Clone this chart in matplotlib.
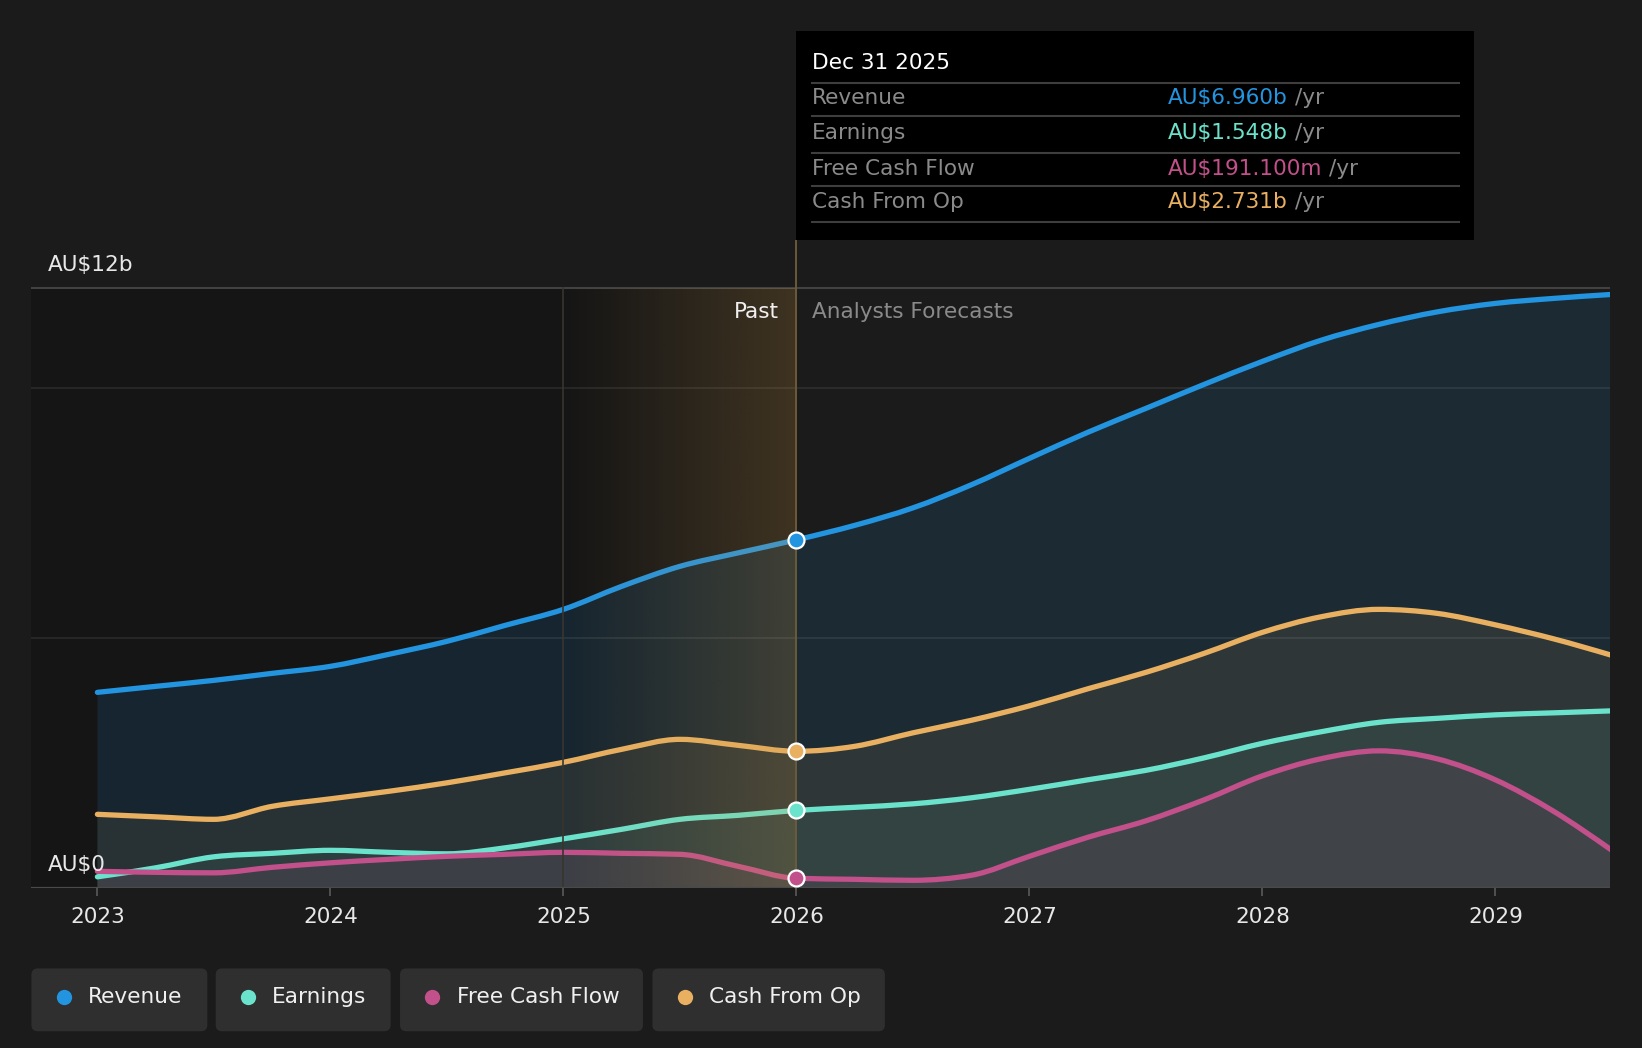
import matplotlib
matplotlib.use("Agg")
import matplotlib.pyplot as plt
import numpy as np
from matplotlib.patches import FancyBboxPatch, Rectangle, PathPatch
from matplotlib.path import Path

# ---------------- data (AU$ billions) ----------------
years = [2023.0, 2023.25, 2023.5, 2023.75, 2024.0, 2024.25, 2024.5, 2024.75,
         2025.0, 2025.25, 2025.5, 2025.75, 2026.0, 2026.25, 2026.5, 2026.75,
         2027.0, 2027.25, 2027.5, 2027.75, 2028.0, 2028.25, 2028.5, 2028.75,
         2029.0, 2029.25, 2029.5]
revenue = [3.91, 4.03, 4.15, 4.29, 4.43, 4.67, 4.93, 5.25,
           5.57, 6.03, 6.43, 6.70, 6.96, 7.25, 7.60, 8.06,
           8.59, 9.11, 9.59, 10.07, 10.53, 10.95, 11.27, 11.52,
           11.69, 11.79, 11.87]
earnings = [0.22, 0.40, 0.62, 0.69, 0.75, 0.71, 0.68, 0.80,
            0.98, 1.17, 1.37, 1.45, 1.548, 1.61, 1.68, 1.80,
            1.97, 2.16, 2.35, 2.60, 2.89, 3.12, 3.31, 3.39,
            3.46, 3.50, 3.54]
fcf = [0.33, 0.31, 0.30, 0.41, 0.50, 0.57, 0.63, 0.67,
       0.71, 0.69, 0.67, 0.43, 0.1911, 0.17, 0.15, 0.25,
       0.63, 1.01, 1.34, 1.76, 2.24, 2.58, 2.74, 2.58,
       2.16, 1.53, 0.75]
cfo = [1.47, 1.42, 1.37, 1.63, 1.78, 1.93, 2.10, 2.30,
       2.51, 2.77, 2.97, 2.85, 2.731, 2.83, 3.10, 3.35,
       3.64, 3.98, 4.31, 4.69, 5.11, 5.42, 5.57, 5.49,
       5.26, 4.98, 4.65]

series_names = ["Revenue", "Earnings", "Free Cash Flow", "Cash From Op"]
tooltip_values = ["AU$6.960b", "AU$1.548b", "AU$191.100m", "AU$2.731b"]
tick_years = [2023, 2024, 2025, 2026, 2027, 2028, 2029]
tooltip_date = "Dec 31 2025"
now_year = 2026.0
past_start = 2025.0

# ---------------- style ----------------
BG = "#1b1b1b"
PAST_BG = "#151515"
C_REV = "#2394df"
C_EARN = "#6be3cc"
C_FCF = "#c2508a"
C_CFO = "#e8b060"
colors = [C_REV, C_EARN, C_FCF, C_CFO]
FS = 15.6
plt.rcParams["font.family"] = ["DejaVu Sans"]

RW, RH = 1568.0, 1001.0  # measurement grid


def fx(v):
    return v / RW


def fy(v):
    return 1 - v / RH


def smooth_path(xs, ys, close_to_zero=False):
    """Monotone cubic (d3 monotoneX style) path through the data points."""
    xs = np.asarray(xs, float)
    ys = np.asarray(ys, float)
    n = len(xs)
    h = np.diff(xs)
    s = np.diff(ys) / h
    m = np.zeros(n)
    for i in range(1, n - 1):
        if s[i - 1] * s[i] <= 0:
            m[i] = 0.0
        else:
            p = (s[i - 1] * h[i] + s[i] * h[i - 1]) / (h[i - 1] + h[i])
            m[i] = np.sign(s[i - 1]) * min(abs(s[i - 1]), abs(s[i]),
                                            0.5 * abs(p)) * 2 if False else \
                (np.sign(s[i - 1]) + np.sign(s[i])) * min(
                    abs(s[i - 1]), abs(s[i]), 0.5 * abs(p))
    m[0] = (3 * s[0] - m[1]) / 2 if n > 2 else s[0]
    m[-1] = (3 * s[-1] - m[-2]) / 2 if n > 2 else s[-1]
    verts = [(xs[0], ys[0])]
    codes = [Path.MOVETO]
    for i in range(n - 1):
        dx = h[i] / 3.0
        verts += [(xs[i] + dx, ys[i] + m[i] * dx),
                  (xs[i + 1] - dx, ys[i + 1] - m[i + 1] * dx),
                  (xs[i + 1], ys[i + 1])]
        codes += [Path.CURVE4] * 3
    if close_to_zero:
        verts += [(xs[-1], 0), (xs[0], 0), (xs[0], ys[0])]
        codes += [Path.LINETO, Path.LINETO, Path.CLOSEPOLY]
    return Path(verts, codes)


fig = plt.figure(figsize=(16.42, 10.48), dpi=100, facecolor=BG)
PX_PER_B = (848 - 275) / 12.0
ymax = (848 - 230) / PX_PER_B
x0 = 2023 - (93 - 30) / 222.5
x1 = 2029 + (1537 - 1428) / 222.5

ax = fig.add_axes([fx(30), fy(848), fx(1537) - fx(30), fy(230) - fy(848)])
ax.set_facecolor("none")
ax.set_xlim(x0, x1)
ax.set_ylim(0, ymax)
for sp in ax.spines.values():
    sp.set_visible(False)

# past background
ax.add_patch(Rectangle((x0, 0), now_year - x0, 12, facecolor=PAST_BG,
                       edgecolor="none", zorder=0))

# gridlines
ax.axhline(12, color="#474747", lw=1.3, zorder=1)
for g in (5, 10):
    ax.axhline(g, color="#ffffff", alpha=0.09, lw=1.2, zorder=3)
ax.axhline(0, color="#4a4a4a", lw=1.6, zorder=6)

# fills and lines
data = [revenue, cfo, earnings, fcf]
cols = [C_REV, C_CFO, C_EARN, C_FCF]
alphas = [0.13, 0.09, 0.08, 0.10]
for d, c, a in zip(data, cols, alphas):
    ax.add_patch(PathPatch(smooth_path(years, d, close_to_zero=True),
                           facecolor=c, alpha=a, edgecolor="none", zorder=2))
for d, c in zip(data, cols):
    ax.add_patch(PathPatch(smooth_path(years, d), facecolor="none",
                           edgecolor=c, lw=3.8, capstyle="round",
                           joinstyle="round", zorder=4))

# highlighted recent-past gradient overlay
grad = np.zeros((2, 256, 4))
gold = np.array([205, 155, 75]) / 255.0
grad[..., :3] = gold
grad[..., 3] = np.linspace(0.0, 0.23, 256)[None, :] ** 1.0
ax.imshow(grad, extent=(past_start, now_year, 0, 12), aspect="auto",
          origin="lower", zorder=5, interpolation="bilinear")

# vertical lines
ax.plot([past_start, past_start], [0, 12], color="#38352f", lw=1.2, zorder=5)
ax.plot([now_year, now_year], [0, ymax], color="#6b5a3a", lw=1.4, zorder=5,
        clip_on=False)

# markers at now
for d, c in zip(data, cols):
    yv = d[years.index(now_year)]
    ax.plot([now_year], [yv], marker="o", ms=11.5, mfc=c, mec="white",
            mew=1.6, zorder=8)

# ticks
ax.set_yticks([])
ax.set_xticks(tick_years)
ax.set_xticklabels([str(t) for t in tick_years])
ax.tick_params(axis="x", colors="#5a5a5a", length=6, width=1.2,
               labelcolor="#e8e8e8", labelsize=FS, pad=8)

# ---------------- overlay (pixel grid) ----------------
ov = fig.add_axes([0, 0, 1, 1], zorder=10)
ov.set_xlim(0, RW)
ov.set_ylim(RH, 0)
ov.axis("off")
ov.set_facecolor("none")

ov.text(46, 253, "AU$12b", color="#e8e8e8", fontsize=FS, va="center", ha="left")
ov.text(46, 826, "AU$0", color="#e8e8e8", fontsize=FS, va="center", ha="left")
ov.text(744, 298, "Past", color="#f0f0f0", fontsize=FS, va="center", ha="right")
ov.text(775, 298, "Analysts Forecasts", color="#8a8a8a", fontsize=FS,
        va="center", ha="left")

# tooltip
ov.add_patch(Rectangle((760, 30), 648, 199, facecolor="#000000",
                       edgecolor="none", zorder=1))
ov.text(775, 60, tooltip_date, color="#ffffff", fontsize=FS, va="center",
        ha="left", zorder=3)
for yl in (79, 111, 146, 178, 212):
    ov.plot([775, 1393], [yl, yl], color="#3e3e3e", lw=1.5, zorder=2)
fig.canvas.draw()
renderer = fig.canvas.get_renderer()
inv = ov.transData.inverted()
for name, val, c, yr in zip(series_names, tooltip_values, colors,
                            (94, 127, 161, 193)):
    ov.text(775, yr, name, color="#8a8a8a", fontsize=FS, va="center",
            ha="left", zorder=3)
    t = ov.text(1115, yr, val, color=c, fontsize=FS, va="center", ha="left",
                zorder=3)
    bb = t.get_window_extent(renderer)
    xend = inv.transform((bb.x1, bb.y0))[0]
    ov.text(xend + 7, yr, "/yr", color="#8a8a8a", fontsize=FS, va="center",
            ha="left", zorder=3)

# legend buttons
boxes = [(30, 198), (206, 373), (382, 614), (623, 845)]
for (bx0, bx1), name, c in zip(boxes, series_names, colors):
    ov.add_patch(FancyBboxPatch((bx0 + 5, 930), bx1 - bx0 - 10, 50,
                                boxstyle="round,pad=5,rounding_size=6",
                                facecolor="#2f2f2f", edgecolor="none",
                                zorder=1))
    ov.plot([bx0 + 31], [952], marker="o", ms=11, mfc=c, mec="none", zorder=3)
    ov.text(bx0 + 54, 952, name, color="#f0f0f0", fontsize=FS, va="center",
            ha="left", zorder=3)

fig.savefig("out.png", dpi=100, facecolor=BG)
